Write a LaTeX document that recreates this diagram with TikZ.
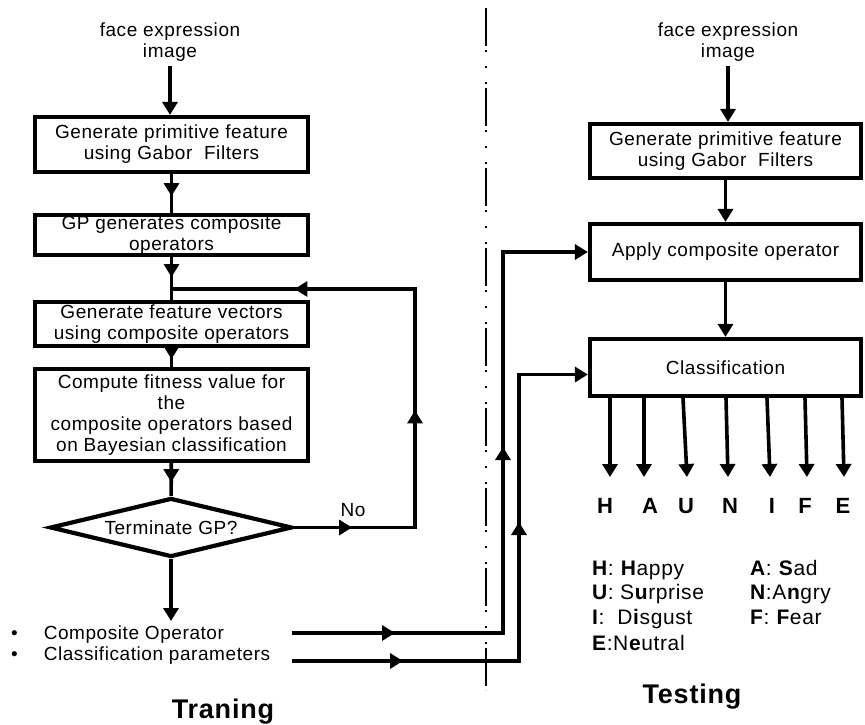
\documentclass[tikz,border=0pt]{standalone}
\usepackage{fontspec}
\setmainfont{Liberation Sans}[LetterSpace=3]
\usetikzlibrary{arrows.meta, shapes.geometric, decorations.markings}

\begin{document}
\begin{tikzpicture}[
		x = 1pt, y = -1pt, % pixel units, y runs down
		> = {Triangle[width=15pt, length=13pt]}, % arrow head style
		line width = 3.6pt, % line style
		font = \fontsize{19}{21}\selectfont
		]
		
		\tikzstyle{box}=[
		draw = black,
		line width = 4.2pt,
		fill = white,
		align = center,
		inner sep = 0pt,
		minimum width = 273pt
		]
		\tikzstyle{emo}=[font = \fontsize{22}{24}\selectfont\bfseries]
		\tikzstyle{legend}=[anchor = base west, font = \fontsize{21}{24}\selectfont]
		\tikzstyle{title}=[font = \fontsize{27}{30}\selectfont\bfseries]
		\tikzset{tipat/.style={postaction={decorate, decoration={markings, mark=at position #1 with {\arrow{>}}}}}}
		
		\useasboundingbox (0,0) rectangle (865,724);
		
		% training side
		\node[align=center] (imgL) at (170,42) {face expression\\image};
		\node[box, minimum height=55pt] (genL) at (171.5,144.5) {Generate primitive feature\\using Gabor\ \ Filters};
		\node[box, minimum height=40pt] (gpL) at (171.5,235) {GP generates composite\\operators};
		\node[box, minimum height=44pt] (vecL) at (171.5,324) {Generate feature vectors\\using composite operators};
		\node[box, minimum height=92pt] (fitL) at (171.5,415) {Compute fitness value for\\the\\composite operators based\\on Bayesian classification};
		\node[diamond, draw, line width=4.2pt, inner sep=0pt, aspect=4.1, minimum width=242pt, minimum height=59pt] (term) at (171,527.5) {Terminate GP?};
		\node (no) at (353,510) {No};
		\node[anchor=west] (opA) at (6,635) {\textbullet\hspace{26pt}Composite Operator};
		\node[anchor=west] (opB) at (6,656) {\textbullet\hspace{26pt}Classification parameters};
		\node[title] (train) at (223,712) {Traning};
		
		\draw[->] (imgL.south) -- (imgL.south |- genL.north);
		\draw[tipat=22pt] (genL) -- (gpL);
		\draw[tipat=20pt] (gpL) -- (vecL);
		\draw[tipat=11pt] (vecL) -- (fitL);
		\draw[tipat=19pt] (fitL) -- (term);
		\draw[->] (term) -- (term.south |- opA.north);
		
		\coordinate (loop) at (415,289);
		\draw[tipat=58pt, tipat=238pt, tipat=480pt] (term.east) -| (loop) -- (gpL.south |- loop);
		
		% divider
		\draw[line width=1.2pt, dash pattern=on 38pt off 4pt on 2pt off 14pt on 2pt off 14pt on 2pt off 4pt] (486,8) -- (486,690);
		
		% testing side
		\node[align=center] (imgR) at (728,42) {face expression\\image};
		\node[box, minimum width=271pt, minimum height=54pt] (genR) at (725.5,151) {Generate primitive feature\\using Gabor\ \ Filters};
		\node[box, minimum width=271pt, minimum height=56pt] (apply) at (725.5,252) {Apply composite operator};
		\node[box, minimum width=271pt, minimum height=57pt] (clsf) at (725.5,367.5) {Classification};
		
		\draw[->] (imgR.south) -- (imgR.south |- genR.north);
		\draw[->] (genR) -- (apply);
		\draw[->] (apply) -- (clsf);
		
		\coordinate (sA) at (292,633);
		\coordinate (sB) at (292,661);
		\draw[tipat=103pt, tipat=397pt, ->] (sA) -- (503,633) |- (apply.west);
		\draw[tipat=111pt, tipat=366pt, ->] (sB) -- (519,661) |- ([yshift=-7pt]clsf.west);
		
		\foreach \dx/\tx/\lx/\lt in {-115.5/610/605/H, -81.5/644/650/A, -42.5/687/686/U, 0.5/728/730/N, 41.5/770/772/I, 79.5/807/805/F, 116.5/844/843/E}{
			\node[emo] (e\lt) at (\lx,506) {\lt};
			\draw[->] ([xshift=\dx pt]clsf.south) -- (\tx,477);
		}
		
		\node[legend] (kH) at (587,575) {\textbf{H}: \textbf{H}appy};
		\node[legend] (kU) at (587,599) {\textbf{U}: S\textbf{u}rprise};
		\node[legend] (kI) at (587,624) {\textbf{I}:\ \ D\textbf{i}sgust};
		\node[legend] (kE) at (587,650) {\textbf{E}:N\textbf{e}utral};
		\node[legend] (kA) at (745,575) {\textbf{A}: \textbf{S}ad};
		\node[legend] (kN) at (745,599) {\textbf{N}:A\textbf{n}gry};
		\node[legend] (kF) at (745,624) {\textbf{F}: \textbf{F}ear};
		\node[title] (test) at (692,697) {Testing};
		
\end{tikzpicture}
\end{document}
